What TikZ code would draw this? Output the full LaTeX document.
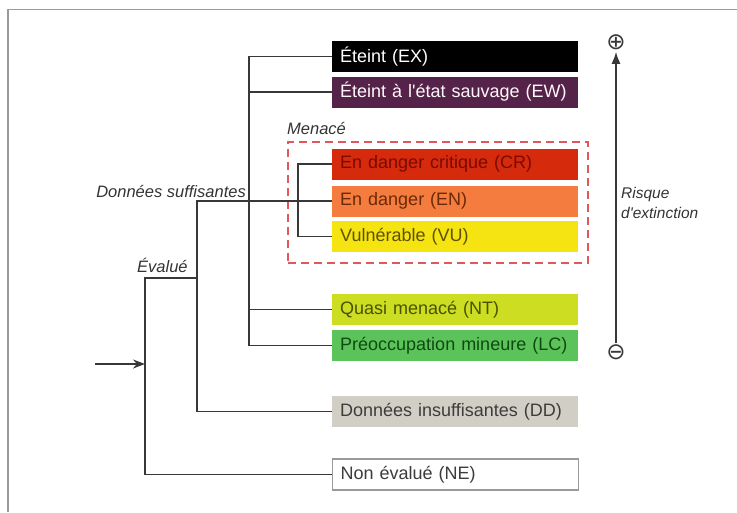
\documentclass[tikz,border=0pt]{standalone}
\usepackage{fontspec}
\setmainfont{Liberation Sans}
\newfontfamily\symfont{DejaVu Sans}
\usetikzlibrary{arrows.meta}
\definecolor{cEX}{HTML}{000000}
\definecolor{cEW}{HTML}{55224A}
\definecolor{cCR}{HTML}{D62A0C}
\definecolor{cEN}{HTML}{F47C3E}
\definecolor{cVU}{HTML}{F6E412}
\definecolor{cNT}{HTML}{CCDD22}
\definecolor{cLC}{HTML}{5CC35A}
\definecolor{cDD}{HTML}{D1CFC5}
\definecolor{tCR}{HTML}{7A0A00}
\definecolor{tEN}{HTML}{6A2A05}
\definecolor{tVU}{HTML}{5C5200}
\definecolor{tNT}{HTML}{4A5200}
\definecolor{tLC}{HTML}{0E4A12}
\definecolor{tDD}{HTML}{3C3C3C}
\definecolor{cline}{HTML}{383838}
\definecolor{cdash}{HTML}{E0585A}
\definecolor{cframe}{HTML}{9A9A9A}
\tikzset{
  catbox/.style={anchor=west, minimum height=31pt, text width=230pt, inner xsep=8pt, inner ysep=0pt, align=left, font=\fontsize{18}{20}\selectfont},
  conn/.style={draw=cline, line width=1.6pt},
  lab/.style={font=\fontsize{16.5}{20}\selectfont\itshape, text=black!80, inner sep=0pt},
  sym/.style={font=\symfont\fontsize{23}{23}\selectfont, text=cline, inner sep=0pt},
}
\begin{document}
\begin{tikzpicture}[x=1pt,y=-1pt]
\useasboundingbox (0,0) rectangle (737,512);
% frame
\draw[cframe, line width=1.5pt] (8,512) -- (8,9.5) -- (737,9.5);
% boxes
\node[catbox, fill=cEX, text=white] (EX) at (332,56.5) {Éteint (EX)};
\node[catbox, fill=cEW, text=white!92!pink] (EW) at (332,92) {Éteint à l\textquotesingle état sauvage (EW)};
\node[catbox, fill=cCR, text=tCR] (CR) at (332,164) {En danger critique (CR)};
\node[catbox, fill=cEN, text=tEN] (EN) at (332,201) {En danger (EN)};
\node[catbox, fill=cVU, text=tVU] (VU) at (332,236.5) {Vulnérable (VU)};
\node[catbox, fill=cNT, text=tNT] (NT) at (332,309.5) {Quasi menacé (NT)};
\node[catbox, fill=cLC, text=tLC] (LC) at (332,345.5) {Préoccupation mineure (LC)};
\node[catbox, fill=cDD, text=tDD] (DD) at (332,411.5) {Données insuffisantes (DD)};
\node[catbox, draw=cframe, line width=1.2pt, fill=white, text=tDD] (NE) at (332,474.5) {Non évalué (NE)};
% dashed group
\node[draw=cdash, dashed, dash pattern=on 8pt off 5pt, line width=1.5pt, minimum width=300pt, minimum height=121pt, anchor=north west, inner sep=0pt] (grp) at (287,141) {};
% labels
\node[lab, anchor=south west] (menace) at (287,135) {Menacé};
\node[lab, anchor=east] (dsuff) at (246,192) {Données suffisantes};
\node[lab, anchor=west] (eval) at (137,265) {Évalué};
\node[lab, anchor=west, align=left, font=\fontsize{15.5}{20}\selectfont\itshape] (risk) at (621,203) {Risque\\d\textquotesingle extinction};
% junction coordinates
\coordinate (j1) at (249,0);
\coordinate (j2) at (298,0);
\coordinate (j3) at (197,0);
\coordinate (j4) at (145,278);
\coordinate (in) at (95,364);
% connectors
\draw[conn] (EX.west) -- (EX.west -| j1) -- (LC.west -| j1) -- (LC.west);
\draw[conn] (EW.west) -- (EW.west -| j1);
\draw[conn] (NT.west) -- (NT.west -| j1);
\draw[conn] (CR.west) -- (CR.west -| j2) -- (VU.west -| j2) -- (VU.west);
\draw[conn] (EN.west) -- (EN.west -| j3) -- (DD.west -| j3) -- (DD.west);
\draw[conn] (j4 -| j3) -- (j4) -- (NE.west -| j4) -- (NE.west);
\draw[conn, -{Stealth[length=12pt,width=9pt]}] (in) -- (in -| j4);
% risk axis
\node[sym] (plus) at (616,42) {⊕};
\node[sym] (minus) at (616,352) {⊖};
\draw[conn, -{Latex[length=12pt,width=9pt]}, shorten <=1pt, shorten >=2pt] (minus) -- (plus);
\end{tikzpicture}
\end{document}
